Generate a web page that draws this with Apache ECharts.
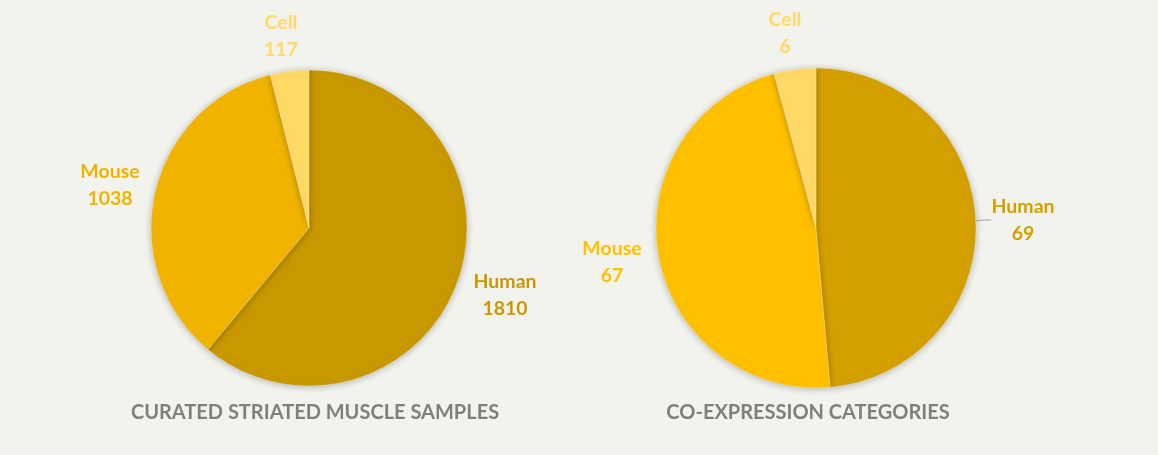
<!DOCTYPE html>
<html><head><meta charset="utf-8">
<script src="https://cdn.jsdelivr.net/npm/echarts@6/dist/echarts.min.js"></script>
<style>html,body{margin:0;padding:0;background:#F3F3EE;}#c{width:1158px;height:455px;}</style>
</head><body><div id="c"></div>
<script>
const categories = ['Human', 'Mouse', 'Cell'];
const samplesValues = [1810, 1038, 117];
const coexpValues = [69, 67, 6];
const chartTitles = ['CURATED STRIATED MUSCLE SAMPLES', 'CO-EXPRESSION CATEGORIES'];

const colorsLeft = ['#C89800', '#F0B400', '#FFD966'];
const colorsRight = ['#D4A000', '#FFC000', '#FFD966'];
// label anchor positions (style/layout)
const labelPos = [
  [[505, 282], [110, 172], [281, 23]],
  [[1023, 207], [612, 249], [785, 20]]
];
const showLeader = [[false, false, false], [true, false, false]];
const FONT = 'Lato, "Open Sans", sans-serif';

function makeData(idx, vals, cols) {
  return categories.map((n, i) => ({
    name: n, value: vals[i],
    itemStyle: { color: cols[i] },
    label: { color: cols[i] },
    labelLine: { show: showLeader[idx][i] }
  }));
}

function pieSeries(idx, center, radius, vals, cols) {
  return {
    type: 'pie', center: center, radius: radius, startAngle: 90, clockwise: true,
    data: makeData(idx, vals, cols),
    animation: false,
    itemStyle: { borderColor: 'rgba(255,255,255,0.45)', borderWidth: 0.6,
      shadowBlur: 7, shadowColor: 'rgba(0,0,0,0.28)', shadowOffsetY: 1 },
    label: { show: true, position: 'outside', formatter: '{b}\n{c}',
      fontFamily: FONT, fontWeight: 'bold', fontSize: 19.5, lineHeight: 27, align: 'center' },
    labelLine: { show: true, length: 8, length2: 8, lineStyle: { color: '#A6A6A6', width: 1 }, smooth: false },
    labelLayout: function (p) {
      const pos = labelPos[idx][p.dataIndex];
      return { x: pos[0], y: pos[1] + 13, align: 'center', verticalAlign: 'middle' };
    },
    emphasis: { disabled: true }
  };
}

const chart = echarts.init(document.getElementById('c'), null, { renderer: 'canvas' });
chart.setOption({
  backgroundColor: '#F3F3EE',
  title: [
    { text: chartTitles[0], left: 310, top: 398, textAlign: 'center',
      textStyle: { fontFamily: FONT, fontWeight: 'bold', fontSize: 20, color: '#7F7F7F' } },
    { text: chartTitles[1], left: 803, top: 398, textAlign: 'center',
      textStyle: { fontFamily: FONT, fontWeight: 'bold', fontSize: 20, color: '#7F7F7F' } }
  ],
  series: [
    pieSeries(0, [309, 228], 158, samplesValues, colorsLeft),
    pieSeries(1, [816, 228], 160, coexpValues, colorsRight)
  ]
});
</script></body></html>
